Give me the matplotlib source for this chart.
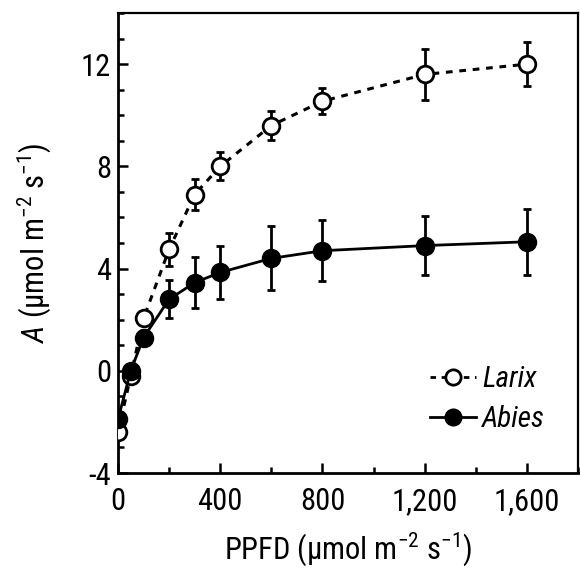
import matplotlib.pyplot as plt
from matplotlib.lines import Line2D
from matplotlib.ticker import MultipleLocator, FixedLocator

# Données
ppfd = [0, 50, 100, 200, 300, 400, 600, 800, 1200, 1600]
larix = [-2.4, -0.2, 2.05, 4.75, 6.9, 8.0, 9.6, 10.55, 11.6, 12.0]
larix_err = [0.2, 0.2, 0.2, 0.65, 0.6, 0.55, 0.55, 0.5, 1.0, 0.85]
abies = [-1.9, 0.0, 1.3, 2.8, 3.45, 3.85, 4.4, 4.7, 4.9, 5.05]
abies_err = [0.2, 0.2, 0.3, 0.75, 1.0, 1.05, 1.25, 1.2, 1.15, 1.3]

xticks = [0, 400, 800, 1200, 1600]
xticklabels = ["0", "400", "800", "1,200", "1,600"]
yticks = [-4, 0, 4, 8, 12]

police = 'Roboto Condensed'
plt.rcParams['font.family'] = [police, 'DejaVu Sans']
plt.rcParams['axes.unicode_minus'] = False
plt.rcParams['mathtext.fontset'] = 'custom'
plt.rcParams['mathtext.rm'] = police
plt.rcParams['mathtext.it'] = police + ':italic'

fig = plt.figure(figsize=(5.8, 5.69), dpi=100)
ax = fig.add_axes([0.2034, 0.1687, 0.7932, 0.8083])

ax.errorbar(ppfd, larix, yerr=larix_err, fmt='o--', color='black',
            mfc='white', mec='black', mew=2, ms=12, lw=2.2,
            dashes=(2.2, 2.2), capsize=3, elinewidth=2, capthick=2,
            zorder=3)
ax.errorbar(ppfd, abies, yerr=abies_err, fmt='o-', color='black',
            mfc='black', mec='black', ms=13, lw=2,
            capsize=3, elinewidth=2, capthick=2,
            zorder=4)

ax.set_xlim(0, 1800)
ax.set_ylim(-4, 14)
ax.xaxis.set_major_locator(FixedLocator(xticks))
ax.set_xticklabels(xticklabels)
ax.xaxis.set_minor_locator(MultipleLocator(200))
ax.yaxis.set_major_locator(FixedLocator(yticks))
ax.yaxis.set_minor_locator(MultipleLocator(1))
ax.tick_params(which='both', direction='in', width=1.8, labelsize=22)
ax.tick_params(which='major', length=7, pad=5)
ax.tick_params(axis='x', which='major', pad=10)
ax.tick_params(which='minor', length=4)

ax.spines['left'].set_linewidth(2)
ax.spines['bottom'].set_linewidth(2)
ax.spines['top'].set_linewidth(1.6)
ax.spines['right'].set_linewidth(1.6)

ax.set_xlabel("PPFD (μmol m$^{-2}$ s$^{-1}$)", fontsize=22, labelpad=10)
ax.set_ylabel("$\\mathit{A}$ (μmol m$^{-2}$ s$^{-1}$)", fontsize=22, labelpad=20)

handles = [Line2D([], [], color='black', ls='--', dashes=(2, 2), lw=2,
                  marker='o', ms=11, mfc='white', mew=2),
           Line2D([], [], color='black', ls='-', lw=2,
                  marker='o', ms=12, mfc='black')]
ax.legend(handles, ['Larix', 'Abies'], loc='lower right',
          bbox_to_anchor=(0.985, 0.03), frameon=False,
          prop={'family': police, 'style': 'italic', 'size': 21},
          handlelength=1.6, handletextpad=0.2, labelspacing=0.4)

fig.savefig('out.png', dpi=100)
